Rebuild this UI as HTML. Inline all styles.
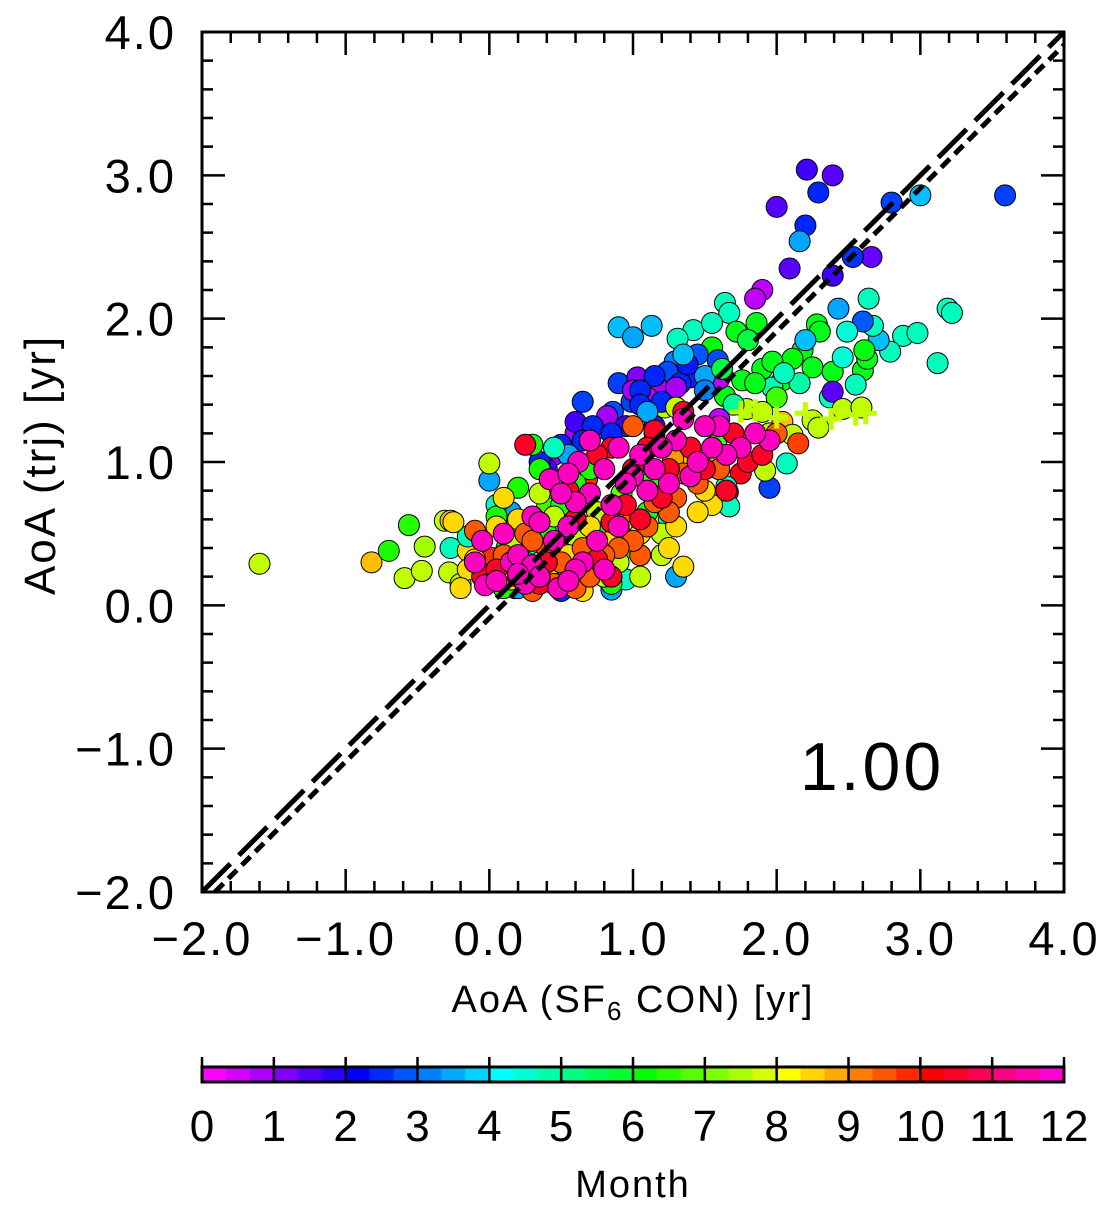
<!DOCTYPE html>
<html><head><meta charset="utf-8"><style>
html,body{margin:0;padding:0;background:#fff;}
svg{display:block;}
text{font-family:"Liberation Sans",sans-serif;fill:#000;}
</style></head>
<body>
<svg id="chart" width="1112" height="1209" viewBox="0 0 1112 1209" xmlns="http://www.w3.org/2000/svg">
<g id="points"></g>
<g id="lines"></g>
<g id="axes"></g>
<text x="872" y="790" font-size="68" text-anchor="middle" letter-spacing="3">1.00</text>
<text x="633" y="1012" font-size="38" text-anchor="middle" letter-spacing="2">AoA (SF<tspan font-size="26" dy="8">6</tspan><tspan dy="-8"> CON) [yr]</tspan></text>
<text transform="translate(55,465) rotate(-90)" font-size="44" text-anchor="middle" letter-spacing="2">AoA (trj) [yr]</text>
<g id="colorbar"></g>
<text x="633" y="1197" font-size="38" text-anchor="middle" letter-spacing="2">Month</text>
</svg>
<script>
const xTicks = [-2, -1, 0, 1, 2, 3, 4];
const yTicks = [-2, -1, 0, 1, 2, 3, 4];
const monthTicks = [0,1,2,3,4,5,6,7,8,9,10,11,12];
const outlierX = [-1.6,-0.82,-0.7,-0.59,-0.56,-0.45,-0.47,-0.31,-0.27,-0.27,-0.28,-0.15,2.21,2.39,2.29,2.0,2.2,2.16,2.09,2.66,2.53,2.39,2.8,3.0,3.59,1.9,1.85,3.19,3.22,3.12,2.64,2.43,0.9,1.0,1.13,1.64,1.67,2.88,2.98,2.79,2.71,2.67,2.6];
const outlierY = [0.29,0.30,0.38,0.19,0.56,0.41,0.24,0.59,0.59,0.40,0.23,0.38,3.04,3.0,2.88,2.78,2.65,2.54,2.35,2.43,2.43,2.3,2.81,2.86,2.86,2.2,2.14,2.07,2.04,1.69,2.14,2.07,1.94,1.87,1.95,2.11,2.04,1.88,1.9,1.77,1.85,1.95,1.98];
const outlierM = [7.5,8.5,6.2,7.5,6.3,7.3,7.5,7.5,8.5,4.5,7.5,8.3,1.5,1.3,2.3,1.3,2.3,3.3,1.3,1.2,2.4,1.5,2.5,3.5,2.5,0.5,0.5,4.5,4.5,4.5,4.5,3.3,3.5,3.3,3.5,4.5,4.5,4.5,4.5,4.5,3.5,4.5,2.7];
const upperX = [1.86,1.72,2.28,2.3,2.18,2.11,2.25,2.39,2.6,2.63,2.61,1.9,1.97,2.04,1.76,1.64,1.55,1.42,1.31,1.55,2.16,1.97,2.55,2.37,2.46,2.49,1.29,1.24,1.4,1.05,0.9,1.03,1.17,0.99,0.86,0.75,0.65,1.59,1.6,1.33,2.39,1.95,1.79,2.25,2.29,2.46,2.59,2.04,1.22,2.11,2.15,2.07,1.92,1.75,1.66,1.67,1.5,1.45,1.8,2.0,1.38,1.7,2.2,1.5,1.62,2.05,1.85,1.15,1.35];
const upperY = [1.97,1.91,1.96,1.91,1.78,1.72,1.66,1.63,1.64,1.72,1.78,1.65,1.7,1.57,1.57,1.46,1.8,1.92,1.86,1.97,1.55,1.52,1.54,1.45,1.73,1.91,1.7,1.63,1.59,1.55,1.55,1.59,1.52,1.42,1.35,1.23,1.42,1.71,1.58,1.55,1.49,0.82,1.37,1.29,1.24,1.37,1.38,1.28,1.38,1.19,1.13,0.99,0.94,0.92,0.79,0.69,1.6,1.75,1.85,1.45,1.68,1.4,1.85,1.5,1.65,1.62,1.55,1.6,1.75];
const upperM = [5.8,5.8,5.8,5.8,5.9,6.0,5.8,5.8,5.8,5.8,5.9,5.8,5.8,5.9,5.8,5.9,6.0,4.5,4.5,4.5,4.7,4.6,4.5,4.5,4.3,4.3,3.0,2.6,2.3,3.0,2.5,1.0,0.7,2.5,2.6,3.0,2.5,2.6,0.5,2.3,1.3,2.5,7.5,7.5,7.5,7.5,7.5,8.5,7.5,7.5,9.5,4.5,7.5,10.2,10.2,4.5,3.3,2.7,5.5,6.5,2.2,4.8,3.5,3.0,5.5,4.5,5.8,2.3,3.5];
const clusterX = [0.05,0.2,0.35,0.55,0.6,0.3,0.45,0.35,0.55,0.5,0.6,0.7,0.8,0.55,0.62,0.42,0.85,0.95,1.0,1.05,1.15,1.2,1.3,1.45,1.55,1.65,1.75,1.85,1.5,1.35,0.9,0.7,0.75,0.9,0.2,0.3,-0.05,0.1,-0.1,0.25,0.15,1.1,1.25,1.4,1.6,0.65,0.8,1.95,0.48,-0.03,
0.25,0.55,0.75,0.85,1.0,1.1,1.25,1.35,1.4,1.7,1.9,1.2,0.95,1.05,0.85,0.6,0.4,0.2,0.05,0.75,0.85,1.65,1.5,0.35,-0.05,1.8,1.15,
0.1,0.3,0.4,0.5,0.65,0.7,0.8,0.9,1.0,1.1,1.15,1.25,1.3,1.45,1.35,1.15,1.05,0.95,0.45,0.25,0.3,0.6,-0.1,1.6,1.0,2.0,
-0.25,-0.2,-0.1,0.05,0.1,0.2,0.35,0.55,0.7,0.85,1.05,1.25,1.35,1.45,1.5,1.3,0.4,0.65,1.6,1.55,-0.15,0.15,
-0.2,0.0,0.15,0.3,0.45,0.6,0.75,0.9,0.55,0.2,0.0,0.35,0.8,1.05,1.0,1.2,1.3,1.9,1.95,1.2,
-0.05,0.1,0.25,0.4,0.5,0.65,0.8,0.95,0.6,0.35,0.3,0.7,0.45,1.1,0.85,0.05,0.2,
-0.15,0.05,0.15,0.35,0.5,0.8,0.95,1.25,0.45,0.7,1.05,1.65,
0.0,0.15,0.55,0.75,1.1,0.2,0.85,1.3,
0.35,0.5,0.65,0.85,0.95,1.15,1.2,1.05,0.72,0.6,0.85,0.5,1.05,0.4,
0.82,1.0,0.6,1.1,1.3,0.45,1.6,
0.12,0.28,0.4,0.62,0.78,0.92,1.12,1.28,0.18,0.52,0.68,0.98,1.18,1.38,1.58,0.02,0.22,0.48];
const clusterY = [0.17,0.22,0.2,0.17,0.25,0.28,0.45,0.58,0.55,0.78,0.72,0.78,0.95,0.92,1.0,0.88,0.7,0.85,0.9,1.05,0.95,1.1,1.15,1.0,1.1,1.05,1.1,1.2,1.25,1.3,1.1,1.15,0.45,0.55,0.35,0.62,0.45,0.5,0.3,0.15,0.3,0.8,0.85,0.9,1.25,0.3,0.25,1.15,0.12,0.14,
1.12,0.8,1.05,1.1,0.95,1.1,0.95,1.35,1.1,1.2,1.05,0.75,0.7,0.6,0.58,0.6,0.3,0.2,0.25,0.32,0.2,0.8,0.95,0.15,0.2,1.0,1.22,
0.35,0.45,0.4,0.3,0.4,0.2,0.35,0.4,0.45,0.55,0.72,0.65,0.75,0.85,0.92,1.2,0.35,0.65,0.15,0.5,0.1,0.12,0.52,0.95,1.25,1.2,
0.58,0.12,0.32,0.55,0.75,0.6,0.3,0.35,0.55,0.45,0.5,0.4,0.27,0.65,0.8,0.55,0.22,0.1,1.0,0.7,0.25,0.18,
0.15,0.2,0.42,0.55,0.62,0.48,0.65,0.3,0.25,0.25,0.99,0.78,0.2,0.2,0.6,0.35,1.38,1.35,1.2,0.5,
0.22,0.12,0.3,0.5,0.7,0.45,0.52,0.4,0.85,0.95,1.12,0.95,0.15,0.65,0.15,0.62,0.82,
0.48,0.7,0.2,0.38,0.5,0.6,0.18,0.6,1.1,0.28,0.98,0.83,
0.87,0.65,1.05,0.97,1.35,0.12,0.11,0.2,
1.0,1.12,1.15,1.2,1.25,1.25,1.42,1.4,1.25,1.28,0.12,0.1,1.5,0.95,
1.32,1.5,1.2,1.45,1.52,1.05,1.3,
0.4,0.38,0.68,0.42,0.62,0.78,0.88,1.02,0.12,0.42,0.88,0.48,0.62,0.98,1.12,0.33,0.55,0.68];
const clusterM = [
11.5,11.5,11.5,11.5,11.5,11.5,11.5,11.5,11.5,11.5,11.5,11.5,11.5,11.5,11.5,11.5,11.5,11.5,11.5,11.5,11.5,11.5,11.5,11.5,11.5,11.5,11.5,11.5,11.5,11.5,11.5,11.5,11.5,11.5,11.5,11.5,11.5,11.5,11.5,11.5,11.5,11.5,11.5,11.5,11.5,11.5,11.5,11.5,11.5,11.5,
10.3,10.3,10.3,10.3,10.3,10.3,10.3,10.3,10.3,10.3,10.3,10.3,10.3,10.3,10.3,10.3,10.3,10.3,10.3,10.3,10.3,10.3,10.3,10.3,10.3,10.3,10.3,
9.3,9.3,9.3,9.3,9.3,9.3,9.3,9.3,9.3,9.3,9.3,9.3,9.3,9.3,9.3,9.3,9.3,9.3,9.3,9.3,9.3,9.3,9.3,9.3,9.3,9.3,
8.3,8.3,8.3,8.3,8.3,8.3,8.3,8.3,8.3,8.3,8.3,8.3,8.3,8.3,8.3,8.3,8.3,8.3,8.3,8.3,8.3,8.3,
7.5,7.5,7.5,7.5,7.5,7.5,7.5,7.5,7.5,7.5,7.5,7.5,7.5,7.5,7.5,7.5,7.5,7.5,7.5,7.5,
6.2,6.2,6.2,6.2,6.2,6.2,6.2,6.2,6.2,6.2,6.2,6.2,6.2,6.2,6.2,6.2,6.2,
4.5,4.5,4.5,4.5,4.5,4.5,4.5,4.5,4.5,4.5,4.5,4.5,
3.3,3.3,3.3,3.3,3.3,3.3,3.3,3.3,
2.3,2.3,2.3,2.3,1.5,2.3,2.3,2.3,2.3,1.5,2.3,2.3,2.3,1.5,
0.7,0.7,0.7,0.5,0.7,0.7,0.5,
6.0,7.0,6.5,5.5,7.2,6.8,6.3,8.8,6.0,5.2,9.6,9.0,7.8,8.5,6.6,9.6,7.3,6.7];
const plusX = [1.75,1.85,2.0,2.2,2.38,2.55,2.62];
const plusY = [1.35,1.36,1.31,1.34,1.3,1.33,1.34];

const L=202,R=1064,T=32,B=892, XMIN=-2,XMAX=4,YMIN=-2,YMAX=4;
function sx(v){return L+(v-XMIN)/(XMAX-XMIN)*(R-L);}
function sy(v){return B-(v-YMIN)/(YMAX-YMIN)*(B-T);}
function hue(m){return ((300-30*m)%360+360)%360;}
function col(m){return 'hsl('+hue(m)+',100%,50%)';}
const NS='http://www.w3.org/2000/svg';
function mk(tag,attrs,parent){const e=document.createElementNS(NS,tag);for(const k in attrs)e.setAttribute(k,attrs[k]);parent.appendChild(e);return e;}
const RAD=10.5;
const pts=document.getElementById('points');
function drawSet(xs,ys,ms,name){
  for(let i=0;i<xs.length;i++){
    const c=mk('circle',{cx:sx(xs[i]),cy:sy(ys[i]),r:RAD,fill:col(ms[i]),stroke:'#000','stroke-width':1},pts);
    
    
  }
}
drawSet(outlierX,outlierY,outlierM,'outlier-point');
drawSet(upperX,upperY,upperM,'upper-point');
{
  const idx=clusterX.map((_,i)=>i).reverse();
  for(const i of idx){
    const c=mk('circle',{cx:sx(clusterX[i]),cy:sy(clusterY[i]),r:RAD,fill:col(clusterM[i]),stroke:'#000','stroke-width':1},pts);
    
    
  }
}
for(let i=0;i<plusX.length;i++){
  const x=sx(plusX[i]),y=sy(plusY[i]);
  const p=mk('path',{d:`M${x-11},${y}H${x+11}M${x},${y-11}V${y+11}`,stroke:col(7.5),'stroke-width':5,fill:'none'},pts);
  
  
}

const lg=document.getElementById('lines');
const l1=mk('line',{x1:sx(-2),y1:sy(-2),x2:sx(4),y2:sy(4),stroke:'#000','stroke-width':5,'stroke-dasharray':'40 12'},lg);


const off=0.09;
const l2=mk('line',{x1:sx(-2+off),y1:sy(-2),x2:sx(4),y2:sy(4-off),stroke:'#000','stroke-width':5,'stroke-dasharray':'12 7'},lg);



const ax=document.getElementById('axes');
const frame=mk('rect',{x:L,y:T,width:R-L,height:B-T,fill:'none',stroke:'#000','stroke-width':3},ax);


let d='';
for(let v=-2;v<=4.001;v+=0.2){
  const major=Math.abs(v-Math.round(v))<1e-6, len=major?23:11;
  const x=sx(v), y=sy(v);
  d+=`M${x},${B}V${B-len}M${x},${T}V${T+len}M${L},${y}H${L+len}M${R},${y}H${R-len}`;
}
const tk=mk('path',{d:d,stroke:'#000','stroke-width':2.5,fill:'none'},ax);


function lab(v){return (v<0?'\u2212':'')+Math.abs(v).toFixed(1);}
for(const v of xTicks){
  const t=mk('text',{x:sx(v),y:955,'font-size':47,'text-anchor':'middle','letter-spacing':2},ax);
  t.textContent=lab(v);
  
  
}
for(const v of yTicks){
  const t=mk('text',{x:176,y:sy(v)+17,'font-size':47,'text-anchor':'end','letter-spacing':2},ax);
  t.textContent=lab(v);
  
  
}

const cb=document.getElementById('colorbar');
const CT=1067,CB=1082,W=(R-L)/12;
for(let s=0;s<36;s++){
  const m=s/3;
  const r=mk('rect',{x:L+m*W,y:CT,width:W/3+0.5,height:CB-CT,fill:col(m)},cb);
  
  
}
const cf=mk('rect',{x:L,y:CT,width:R-L,height:CB-CT,fill:'none',stroke:'#000','stroke-width':3},cb);


for(const m of monthTicks){
  const x=L+m*W;
  const tl=mk('line',{x1:x,y1:1057,x2:x,y2:CB,stroke:'#000','stroke-width':2.5},cb);
  
  
  const t=mk('text',{x:x,y:1141,'font-size':44,'text-anchor':'middle'},cb);
  t.textContent=String(m);
  
  
}
</script>
</body></html>
